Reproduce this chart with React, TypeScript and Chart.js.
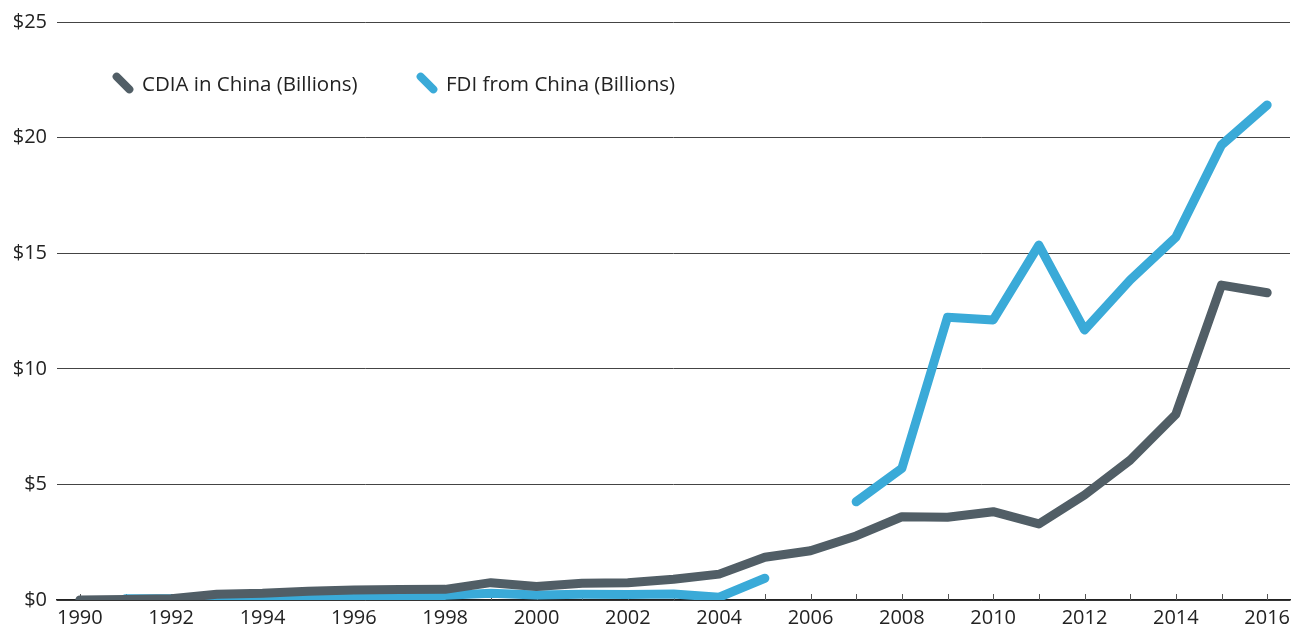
import React, { useEffect, useRef } from "react";
import { Chart, registerables } from "chart.js";

Chart.register(...registerables);

const years: string[] = [
  "1990", "1991", "1992", "1993", "1994", "1995", "1996", "1997", "1998", "1999",
  "2000", "2001", "2002", "2003", "2004", "2005", "2006", "2007", "2008", "2009",
  "2010", "2011", "2012", "2013", "2014", "2015", "2016",
];

const cdiaValues: (number | null)[] = [
  0.0, 0.02, 0.05, 0.25, 0.29, 0.38, 0.43, 0.45, 0.46, 0.75,
  0.58, 0.72, 0.75, 0.9, 1.12, 1.85, 2.13, 2.77, 3.6, 3.58,
  3.82, 3.29, 4.54, 6.05, 8.03, 13.62, 13.29,
];

const fdiValues: (number | null)[] = [
  null, 0.05, 0.05, 0.1, 0.12, 0.15, 0.2, 0.2, 0.2, 0.29,
  0.22, 0.25, 0.24, 0.26, 0.12, 0.94, null, 4.25, 5.69, 12.23,
  12.11, 15.35, 11.68, 13.84, 15.69, 19.68, 21.41,
];

const seriesLabels = ["CDIA in China (Billions)", "FDI from China (Billions)"];
const seriesColors = ["#515e66", "#3aaad8"];
const yTickValues = [0, 5, 10, 15, 20, 25];

const FONT = "'Open Sans', sans-serif";

const yearTickMarks = {
  id: "yearTickMarks",
  beforeDatasetsDraw(chart: any) {
    const { ctx, chartArea } = chart;
    const x = chart.scales.x;
    ctx.save();
    ctx.strokeStyle = "#555";
    ctx.lineWidth = 1;
    years.forEach((_, i) => {
      const px = Math.round(x.getPixelForValue(i)) + 0.5;
      ctx.beginPath();
      ctx.moveTo(px, chartArea.bottom);
      ctx.lineTo(px, chartArea.bottom - 6);
      ctx.stroke();
    });
    ctx.restore();
  },
};

export default function App() {
  const canvasRef = useRef<HTMLCanvasElement | null>(null);

  useEffect(() => {
    if (!canvasRef.current) return;
    const chart = new Chart(canvasRef.current, {
      type: "line",
      data: {
        labels: years,
        datasets: [
          {
            label: seriesLabels[0],
            data: cdiaValues,
            borderColor: seriesColors[0],
            backgroundColor: seriesColors[0],
            borderWidth: 9,
            borderCapStyle: "round",
            borderJoinStyle: "round",
            pointRadius: 0,
            spanGaps: false,
          },
          {
            label: seriesLabels[1],
            data: fdiValues,
            borderColor: seriesColors[1],
            backgroundColor: seriesColors[1],
            borderWidth: 9,
            borderCapStyle: "round",
            borderJoinStyle: "round",
            pointRadius: 0,
            spanGaps: false,
          },
        ],
      },
      options: {
        animation: false,
        responsive: true,
        maintainAspectRatio: false,
        layout: { padding: { top: 22, right: 3, left: 0, bottom: 0 } },
        plugins: {
          legend: { display: false },
          tooltip: { enabled: false },
        },
        scales: {
          x: {
            offset: true,
            grid: { display: false, drawTicks: false },
            border: { display: true, color: "#222", width: 1.5 },
            ticks: {
              autoSkip: false,
              maxRotation: 0,
              padding: 6,
              color: "#222",
              font: { family: FONT, size: 20 },
              callback: (_v: any, i: number) => (i % 2 === 0 ? years[i] : ""),
            },
            afterFit: (s: any) => {
              s.height = 32;
              s.paddingRight = 0;
            },
          },
          y: {
            min: 0,
            max: 25,
            afterBuildTicks: (s: any) => {
              s.ticks = yTickValues.map((v) => ({ value: v }));
            },
            grid: { color: "#444", lineWidth: 1, drawTicks: false },
            border: { display: false },
            ticks: {
              padding: 10,
              color: "#222",
              font: { family: FONT, size: 20 },
              callback: (v: any) => "$" + v,
            },
            afterFit: (s: any) => {
              s.width = 57;
            },
          },
        },
      },
      plugins: [yearTickMarks],
    });
    return () => chart.destroy();
  }, []);

  const legendItem = (i: number, left: number) => (
    <div
      key={i}
      style={{
        position: "absolute",
        left,
        top: 68,
        height: 30,
        display: "flex",
        alignItems: "center",
        fontFamily: FONT,
        fontSize: 20.5,
        color: "#222",
        whiteSpace: "nowrap",
      }}
    >
      <span
        style={{
          display: "inline-block",
          width: 26,
          height: 8,
          borderRadius: 4,
          background: seriesColors[i],
          transform: "rotate(45deg)",
          marginRight: 6,
        }}
      />
      <span>{seriesLabels[i]}</span>
    </div>
  );

  return (
    <div
      style={{
        position: "fixed",
        left: 0,
        top: 0,
        width: 1293,
        height: 632,
        background: "#fff",
      }}
    >
      <canvas ref={canvasRef} />
      {legendItem(0, 110)}
      {legendItem(1, 414)}
    </div>
  );
}
